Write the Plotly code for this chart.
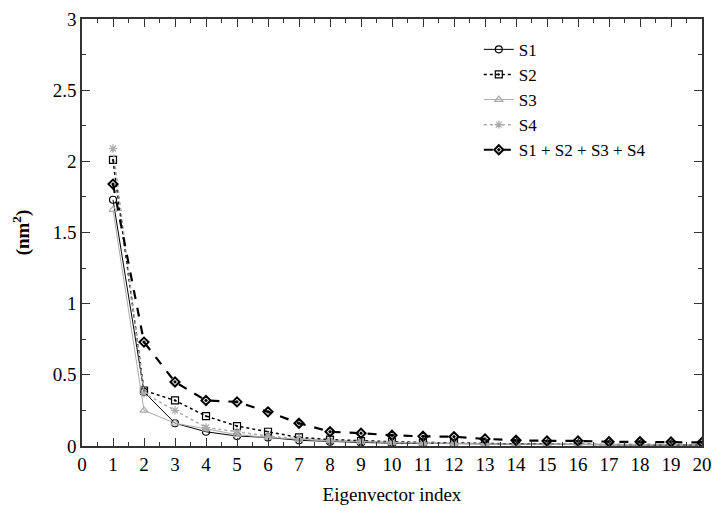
import plotly.graph_objects as go

idx = list(range(1, 21))
s1 = [1.73, 0.38, 0.16, 0.10, 0.07, 0.06, 0.04, 0.03, 0.025, 0.02,
      0.018, 0.015, 0.012, 0.01, 0.01, 0.008, 0.008, 0.007, 0.006, 0.005]
s2 = [2.01, 0.39, 0.32, 0.21, 0.14, 0.10, 0.06, 0.045, 0.035, 0.03,
      0.025, 0.02, 0.018, 0.015, 0.013, 0.012, 0.01, 0.01, 0.009, 0.008]
s3 = [1.66, 0.25, 0.16, 0.12, 0.08, 0.06, 0.045, 0.035, 0.03, 0.025,
      0.02, 0.018, 0.015, 0.013, 0.012, 0.01, 0.01, 0.009, 0.008, 0.007]
s4 = [2.09, 0.37, 0.25, 0.13, 0.10, 0.07, 0.05, 0.04, 0.03, 0.025,
      0.02, 0.018, 0.015, 0.013, 0.012, 0.01, 0.01, 0.009, 0.008, 0.007]
total = [1.84, 0.73, 0.45, 0.32, 0.31, 0.24, 0.16, 0.10, 0.09, 0.075,
         0.068, 0.065, 0.05, 0.04, 0.036, 0.036, 0.03, 0.03, 0.028, 0.025]

series = [
    ("S1", s1, "black", "solid", 1, "circle-open"),
    ("S2", s2, "black", "dot", 1.5, "square-open-dot"),
    ("S3", s3, "#aaaaaa", "solid", 1, "triangle-up-open"),
    ("S4", s4, "#aaaaaa", "dot", 1.5, "asterisk-open"),
    ("S1 + S2 + S3 + S4", total, "black", "dash", 2.2, "diamond-open-dot"),
]

SERIF = "Liberation Serif, Times New Roman, serif"

fig = go.Figure()
for name, ys, color, dash, width, sym in series:
    fig.add_trace(go.Scatter(
        x=idx, y=ys, name=name, mode="lines+markers",
        line=dict(color=color, dash=dash, width=width),
        marker=dict(symbol=sym, size=7, color=color,
                    line=dict(color=color, width=2 if name.startswith("S1 +") else 1.2)),
    ))

axis_common = dict(
    showgrid=False, zeroline=False, showline=True, mirror="ticks",
    linecolor="#333333", linewidth=1.5, ticks="inside", ticklen=8,
    tickcolor="#333333", tickfont=dict(family=SERIF, size=19, color="black"),
    automargin=False, ticklabeloverflow="allow",
)

fig.update_xaxes(
    range=[0, 20], dtick=1, tick0=0,
    minor=dict(ticks="inside", ticklen=4, dtick=0.5, tickcolor="#333333"),
    title=dict(text="Eigenvector index", font=dict(family=SERIF, size=19, color="black"), standoff=14),
    **axis_common,
)
fig.update_yaxes(
    range=[0, 3], dtick=0.5, tick0=0,
    minor=dict(ticks="inside", ticklen=4, dtick=0.25, tickcolor="#333333"),
    title=dict(text="<b>(nm<sup>2</sup>)</b>", font=dict(family=SERIF, size=19, color="black"), standoff=18),
    **axis_common,
)

# the page adds an 8px body margin, so margins are set a bit smaller
fig.update_layout(
    width=720, height=514,
    margin=dict(l=74, r=26, t=11, b=76),
    plot_bgcolor="white", paper_bgcolor="white",
    legend=dict(x=0.64, y=0.97, xanchor="left", yanchor="top",
                font=dict(family=SERIF, size=17, color="black"),
                bgcolor="rgba(0,0,0,0)", tracegroupgap=0, itemwidth=30),
)

fig.write_html("out.html")
